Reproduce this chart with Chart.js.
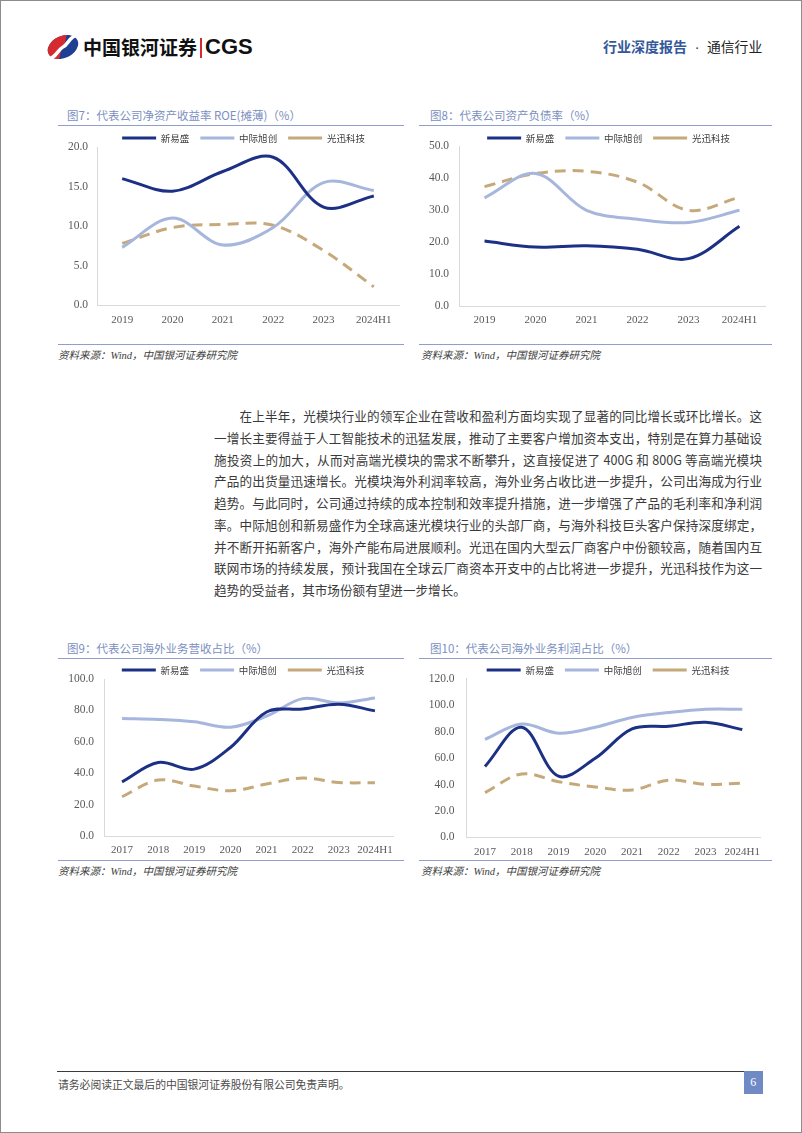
<!DOCTYPE html>
<html><head><meta charset="utf-8">
<script src="https://cdn.jsdelivr.net/npm/chart.js@4.4.1/dist/chart.umd.min.js"></script>
<style>
html,body{margin:0;padding:0;background:#fff;}
#page{position:relative;width:802px;height:1133px;overflow:hidden;background:#fff;font-family:"Noto Sans CJK SC","Noto Sans",sans-serif;}
#frame{position:absolute;left:0;top:0;width:802px;height:1133px;box-sizing:border-box;border:1px solid #8c8c8c;pointer-events:none;}
.a{position:absolute;white-space:nowrap;}
.title{font-size:11.5px;color:#7b8fbf;height:16px;line-height:16px;}
.rule{position:absolute;height:1.5px;background:#8e9fcb;}
.src{font-size:10.5px;font-style:italic;color:#404040;height:14px;line-height:14px;font-family:"Liberation Serif","Noto Sans CJK SC",serif;}
.src span{font-family:"Noto Sans CJK SC",sans-serif;}
.para{position:absolute;left:214px;width:548px;font-size:12.6px;line-height:21.75px;color:#3a3a3a;}
.para div{text-align:justify;text-align-last:justify;white-space:nowrap;height:21.75px;}
.para div.last{text-align-last:left;}
canvas{position:absolute;}
</style>
</head><body>
<div id="page">
  <!-- header -->
  <svg class="a" style="left:46px;top:35px" width="34" height="24" viewBox="0 0 34 24">
    <defs><clipPath id="cl"><path d="M0 0 H31 C23 2 22 10 17 12 C12 14 11 22 3 24 H0 Z"/></clipPath></defs>
    <ellipse cx="17" cy="12" rx="16" ry="11" transform="rotate(-25 17 12)" fill="#1f3f93"/>
    <ellipse cx="17" cy="12" rx="16" ry="11" transform="rotate(-25 17 12)" fill="#d52b30" clip-path="url(#cl)"/>
    <path d="M31 0 C23 2 22 10 17 12 C12 14 11 22 3 24" stroke="#fff" stroke-width="3.5" fill="none"/>
  </svg>
  <div class="a" style="left:83px;top:35px;font-size:19px;line-height:24px;font-weight:bold;color:#111;">中国银河证券</div>
  <div class="a" style="left:200px;top:38px;width:1.5px;height:20px;background:#d52b30;"></div>
  <div class="a" style="left:205px;top:34px;font-size:22px;line-height:26px;font-weight:bold;color:#111;font-family:'Liberation Sans',Arial,sans-serif;">CGS</div>
  <div class="a" style="left:603px;top:37px;font-size:14px;line-height:18px;color:#34589a;font-weight:bold;">行业深度报告</div>
  <div class="a" style="left:694px;top:40px;width:6px;text-align:center;font-size:14px;line-height:18px;color:#333;font-family:'Liberation Serif',serif;">·</div>
  <div class="a" style="left:707px;top:37px;font-size:13.8px;line-height:18px;color:#222;">通信行业</div>

  <!-- chart 7 -->
  <div class="a title" style="left:67px;top:107px;">图7：代表公司净资产收益率 ROE(摊薄)（%）</div>
  <div class="rule" style="left:58px;top:124.5px;width:346px;"></div>
  <canvas id="c7" width="347" height="212" style="left:58px;top:128px;"></canvas>
  <div class="rule" style="left:58px;top:343.5px;width:346px;"></div>
  <div class="a src" style="left:58px;top:348px;"><span>资料来源：</span>Wind<span>，中国银河证券研究院</span></div>

  <!-- chart 8 -->
  <div class="a title" style="left:430px;top:107px;">图8：代表公司资产负债率（%）</div>
  <div class="rule" style="left:419px;top:124.5px;width:353px;"></div>
  <canvas id="c8" width="352" height="212" style="left:420px;top:128px;"></canvas>
  <div class="rule" style="left:419px;top:343.5px;width:353px;"></div>
  <div class="a src" style="left:421px;top:348px;"><span>资料来源：</span>Wind<span>，中国银河证券研究院</span></div>

  <!-- paragraph -->
  <div class="para" style="top:405px;">
    <div style="text-indent:25.5px;">在上半年，光模块行业的领军企业在营收和盈利方面均实现了显著的同比增长或环比增长。这</div>
    <div>一增长主要得益于人工智能技术的迅猛发展，推动了主要客户增加资本支出，特别是在算力基础设</div>
    <div>施投资上的加大，从而对高端光模块的需求不断攀升，这直接促进了 400G 和 800G 等高端光模块</div>
    <div>产品的出货量迅速增长。光模块海外利润率较高，海外业务占收比进一步提升，公司出海成为行业</div>
    <div>趋势。与此同时，公司通过持续的成本控制和效率提升措施，进一步增强了产品的毛利率和净利润</div>
    <div>率。中际旭创和新易盛作为全球高速光模块行业的头部厂商，与海外科技巨头客户保持深度绑定，</div>
    <div>并不断开拓新客户，海外产能布局进展顺利。光迅在国内大型云厂商客户中份额较高，随着国内互</div>
    <div>联网市场的持续发展，预计我国在全球云厂商资本开支中的占比将进一步提升，光迅科技作为这一</div>
    <div class="last">趋势的受益者，其市场份额有望进一步增长。</div>
  </div>

  <!-- chart 9 -->
  <div class="a title" style="left:67px;top:640px;">图9：代表公司海外业务营收占比（%）</div>
  <div class="rule" style="left:58px;top:657.5px;width:346px;"></div>
  <canvas id="c9" width="347" height="198" style="left:58px;top:660px;"></canvas>
  <div class="rule" style="left:58px;top:859.5px;width:346px;"></div>
  <div class="a src" style="left:58px;top:864px;"><span>资料来源：</span>Wind<span>，中国银河证券研究院</span></div>

  <!-- chart 10 -->
  <div class="a title" style="left:430px;top:640px;">图10：代表公司海外业务利润占比（%）</div>
  <div class="rule" style="left:419px;top:657.5px;width:353px;"></div>
  <canvas id="c10" width="352" height="198" style="left:420px;top:660px;"></canvas>
  <div class="rule" style="left:419px;top:859.5px;width:353px;"></div>
  <div class="a src" style="left:421px;top:864px;"><span>资料来源：</span>Wind<span>，中国银河证券研究院</span></div>

  <!-- footer -->
  <div class="a" style="left:57px;top:1070.5px;width:706px;height:1.5px;background:#3a3a3a;"></div>
  <div class="a" style="left:58px;top:1077px;font-size:10.8px;line-height:14px;color:#4a4a4a;">请务必阅读正文最后的中国银河证券股份有限公司免责声明。</div>
  <div class="a" style="left:744px;top:1071px;width:18.5px;height:22.5px;background:#6f8ac4;color:#fff;font-size:12px;line-height:22.5px;text-align:center;font-family:'Liberation Serif',serif;">6</div>
  <div id="frame"></div>
</div>
<script>
// ---- data ----
const seriesNames = ['新易盛', '中际旭创', '光迅科技'];
const years1 = ['2019', '2020', '2021', '2022', '2023', '2024H1'];
const years2 = ['2017', '2018', '2019', '2020', '2021', '2022', '2023', '2024H1'];

const roeXYS  = [16.0, 14.4, 16.9, 18.7, 12.4, 13.8];
const roeZJXC = [7.3, 11.0, 7.6, 9.8, 15.5, 14.5];
const roeGXKJ = [7.8, 9.8, 10.2, 10.1, 6.9, 2.3];

const debtXYS  = [20.3, 18.4, 18.8, 17.7, 14.8, 24.9];
const debtZJXC = [33.8, 41.4, 29.9, 27.1, 26.1, 29.9];
const debtGXKJ = [37.3, 41.4, 42.1, 38.7, 29.9, 34.0];

const revXYS  = [34.5, 46.8, 42.6, 56.4, 79.0, 80.9, 83.9, 79.7];
const revZJXC = [74.8, 74.2, 72.7, 69.3, 76.3, 87.5, 84.7, 87.9];
const revGXKJ = [25.0, 35.6, 31.8, 28.8, 33.1, 36.9, 34.1, 33.9];

const profXYS  = [53.7, 83.4, 46.3, 59.9, 82.1, 84.1, 87.1, 81.6];
const profZJXC = [74.2, 85.8, 78.9, 83.4, 90.8, 94.5, 97.0, 97.0];
const profGXKJ = [33.9, 48.0, 42.1, 38.1, 35.9, 43.3, 40.1, 41.1];

const yMax7 = 20, yStep7 = 5;
const yMax8 = 50, yStep8 = 10;
const yMax9 = 100, yStep9 = 20;
const yMax10 = 120, yStep10 = 20;

// ---- styles ----
const C1 = '#1c3185', C2 = '#a6b6dc', C3 = '#c6a97b';
const LEG_FS = 9.5;

const legendPos = {
  id: 'legendPos',
  beforeLayout(chart) {
    const lg = chart.legend;
    if (lg && !lg.__patched) {
      const f = lg.fit;
      lg.fit = function () { f.call(this); this.height = chart.options.plugins.legendPos.height; };
      lg.__patched = true;
    }
  },
  afterLayout(chart, args, opts) {
    const lg = chart.legend; if (!lg) return;
    const p = opts.pad;
    lg.top = opts.cy - p - opts.fs / 2;
    lg.bottom = opts.cy + 12;
    lg.left += opts.dx; lg.right += opts.dx;
  }
};

function makeChart(id, labels, a, b, c, cfg) {
  new Chart(document.getElementById(id), {
    type: 'line',
    data: {
      labels: labels,
      datasets: [
        { label: seriesNames[0], data: a, borderColor: C1, backgroundColor: C1, borderWidth: 3 },
        { label: seriesNames[1], data: b, borderColor: C2, backgroundColor: C2, borderWidth: 3 },
        { label: seriesNames[2], data: c, borderColor: C3, backgroundColor: C3, borderWidth: 3, borderDash: [11, 7] }
      ]
    },
    options: {
      responsive: false, animation: false, devicePixelRatio: 1,
      elements: { point: { radius: 0, hoverRadius: 0 }, line: { tension: 0.35, borderCapStyle: 'butt' } },
      layout: { padding: { left: 0, right: cfg.padR, top: 0, bottom: 0 } },
      plugins: {
        legend: {
          display: true, position: 'top',
          labels: { usePointStyle: true, pointStyle: 'line', pointStyleWidth: 34, padding: 11, color: '#404040',
                    font: { family: '"Noto Sans CJK SC", sans-serif', size: LEG_FS } }
        },
        tooltip: { enabled: false },
        legendPos: { height: cfg.top, cy: 10, dx: cfg.dx, pad: 11, fs: LEG_FS }
      },
      scales: {
        x: {
          offset: true,
          grid: { display: false, drawTicks: false },
          border: { display: true, color: '#d9d9d9', width: 1 },
          ticks: { color: '#595959', font: { family: '"Liberation Serif", serif', size: 11 }, padding: cfg.xpad, maxRotation: 0, autoSkip: false },
          afterFit(s) { s.height = cfg.xh; }
        },
        y: {
          min: 0, max: cfg.max,
          grid: { display: false, drawTicks: false },
          border: { display: true, color: '#d9d9d9', width: 1 },
          ticks: { stepSize: cfg.step, color: '#595959', font: { family: '"Liberation Serif", serif', size: 11.5 }, padding: cfg.ypad,
                   callback: v => Number(v).toFixed(1) },
          afterFit(s) { s.width = cfg.yw; }
        }
      }
    },
    plugins: [legendPos]
  });
}

makeChart('c7', years1, roeXYS, roeZJXC, roeGXKJ, { max: yMax7, step: yStep7, padR: 6, top: 19, xh: 35, xpad: 9, yw: 39, ypad: 9, dx: 15 });
makeChart('c8', years1, debtXYS, debtZJXC, debtGXKJ, { max: yMax8, step: yStep8, padR: 7, top: 18, xh: 34, xpad: 8, yw: 39, ypad: 10, dx: 16 });
makeChart('c9', years2, revXYS, revZJXC, revGXKJ, { max: yMax9, step: yStep9, padR: 12, top: 19, xh: 22, xpad: 8, yw: 46, ypad: 10, dx: 17.7 });
makeChart('c10', years2, profXYS, profZJXC, profGXKJ, { max: yMax10, step: yStep10, padR: 11.3, top: 15.7, xh: 20.7, xpad: 7.8, yw: 46.6, ypad: 12, dx: 17.7 });
</script>
</body></html>
